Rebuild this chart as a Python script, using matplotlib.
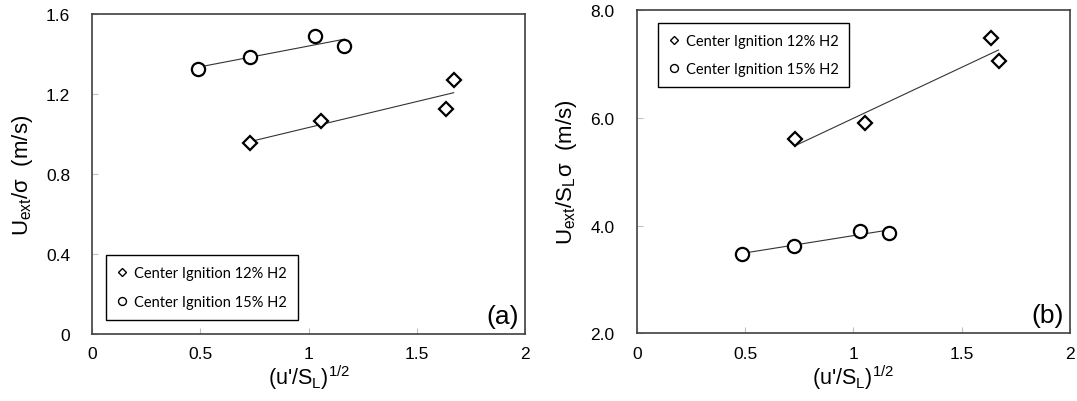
import matplotlib
matplotlib.use('Agg')
import matplotlib.pyplot as plt
import numpy as np

plt.rcParams['font.family'] = ['Liberation Sans', 'DejaVu Sans']
plt.rcParams['mathtext.default'] = 'regular'

# sqrt(u'/S_L) for each series
x_12 = [0.730, 1.055, 1.636, 1.670]
x_15 = [0.488, 0.727, 1.029, 1.165]

# panel (a): U_ext / sigma
a_12 = [0.953, 1.065, 1.125, 1.270]
a_15 = [1.325, 1.383, 1.491, 1.438]

# panel (b): U_ext / (S_L sigma)
b_12 = [5.60, 5.894, 7.485, 7.046]
b_15 = [3.478, 3.626, 3.900, 3.868]

labels = ['Center Ignition 12% H2', 'Center Ignition 15% H2']
xticks = [0, 0.5, 1, 1.5, 2]
xticklabels = ['0', '0.5', '1', '1.5', '2']


def trend(ax, x, y):
    k, b = np.polyfit(x, y, 1)
    xs = np.array([min(x), max(x)])
    ax.plot(xs, k * xs + b, color='#333333', lw=0.8, zorder=1)


def style_axes(ax):
    for s in ax.spines.values():
        s.set_color('#404040')
        s.set_linewidth(1.2)
    ax.tick_params(direction='in', length=4, width=0.8, color='#c0c0c0',
                   labelsize=12.5, pad=9)
    ax.tick_params(axis='y', pad=16)
    ax.set_xlim(0, 2)
    ax.set_xticks(xticks)
    ax.set_xticklabels(xticklabels)
    ax.set_xlabel("(u'/S$_L$)$^{1/2}$", fontsize=15.5, labelpad=1)


def panel(ax, y12, y15, ylim, yticks, ytl, ylabel, tag, leg_loc, leg_anchor):
    trend(ax, x_12, y12)
    trend(ax, x_15, y15)
    ax.plot(x_12, y12, ls='none', marker='D', ms=7.5, mfc='white', mec='black',
            mew=1.6, label=labels[0], zorder=3)
    ax.plot(x_15, y15, ls='none', marker='o', ms=9.5, mfc='white', mec='black',
            mew=1.6, label=labels[1], zorder=3)
    style_axes(ax)
    ax.set_ylim(*ylim)
    ax.set_yticks(yticks)
    ax.set_yticklabels(ytl)
    ax.set_ylabel(ylabel, fontsize=16, labelpad=8)
    ax.text(0.986, 0.018, tag, transform=ax.transAxes, ha='right', va='bottom',
            fontsize=19)
    leg = ax.legend(loc=leg_loc, bbox_to_anchor=leg_anchor, borderaxespad=0,
                    fancybox=False, edgecolor='black', framealpha=1,
                    prop={'family': 'Lato', 'size': 10.5}, markerscale=0.6,
                    handlelength=0.7, handletextpad=0.45, labelspacing=1.0,
                    borderpad=0.75)
    leg.get_frame().set_linewidth(1.0)
    for h in leg.legend_handles:
        h.set_markeredgewidth(1.0)


fig = plt.figure(figsize=(10.77, 4.02), dpi=100)
ax_a = fig.add_axes([0.0857, 0.1667, 0.4018, 0.796])
ax_b = fig.add_axes([0.5912, 0.1684, 0.4023, 0.8042])

panel(ax_a, a_12, a_15, (0, 1.6), [0, 0.4, 0.8, 1.2, 1.6],
      ['0', '0.4', '0.8', '1.2', '1.6'], 'U$_{ext}$/σ  (m/s)', '(a)',
      'lower left', (0.032, 0.044))
panel(ax_b, b_12, b_15, (2.0, 8.0), [2, 4, 6, 8],
      ['2.0', '4.0', '6.0', '8.0'], 'U$_{ext}$/S$_L$σ  (m/s)', '(b)',
      'upper left', (0.049, 0.96))

fig.savefig('out.png', dpi=100)
plt.close(fig)
